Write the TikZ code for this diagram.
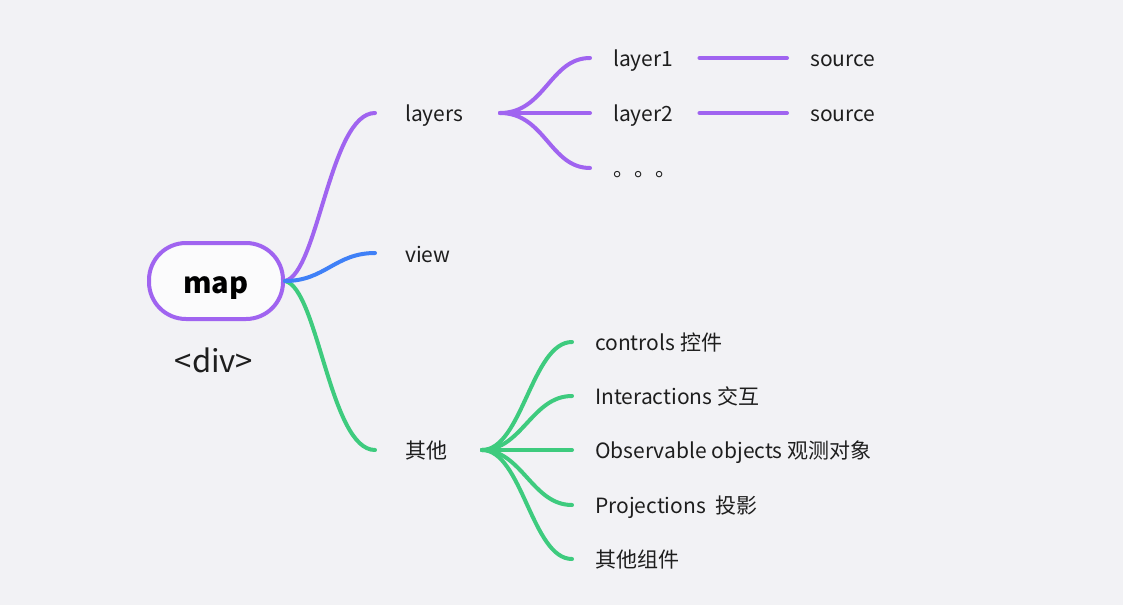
\documentclass[tikz,border=0pt]{standalone}
\usepackage{fontspec}
\setmainfont{Noto Sans CJK SC}
\definecolor{bg}{HTML}{F2F2F5}
\definecolor{cpurple}{HTML}{A064F0}
\definecolor{cblue}{HTML}{3F80F7}
\definecolor{cgreen}{HTML}{3ECB7E}
\definecolor{ctext}{HTML}{1E1E1E}
\begin{document}
\begin{tikzpicture}[x=1pt,y=-1pt,
  lbl/.style={anchor=west,inner sep=0pt,text=ctext,font=\fontsize{21}{25}\selectfont,text height=19pt,text depth=3pt},
  conn/.style={line width=4pt,line cap=round},
  rootbox/.style={draw=cpurple,line width=4pt,fill=white!70!bg,rounded corners=37pt,minimum width=134pt,minimum height=76pt,inner sep=0pt,font=\fontsize{29}{33}\selectfont\bfseries,text=black,text height=26pt,text depth=2pt}
]
\fill[bg] (0,0) rectangle (1123,605);
\useasboundingbox (0,0) rectangle (1123,605);

% root
\node[rootbox] (map) at (216,281) {map};
\node[inner sep=0pt,font=\fontsize{31}{35}\selectfont,text=ctext] (div) at (214,360) {<div>};

% first level labels
\node[lbl] (layers) at (405,113) {layers};
\node[lbl] (view) at (405,254) {view};
\node[lbl] (other) at (405,450) {其他};

% endpoints of root connectors
\coordinate (layersIn) at (375,113);
\coordinate (viewIn) at (375,253);
\coordinate (otherIn) at (375,450);

\draw[conn,cpurple] (map.east) .. controls (318,274) and (330,113) .. (layersIn);
\draw[conn,cgreen] (map.east) .. controls (318,288) and (330,450) .. (otherIn);
\draw[conn,cblue] (map.east) .. controls (325,281) and (335,253) .. (viewIn);

% layers branch
\coordinate (lfan) at (500,113);
\node[lbl] (l1) at (613,58) {layer1};
\node[lbl] (l2) at (613,113) {layer2};
\node[lbl] (dots) at (613,168) {。。。};
\node[lbl] (s1) at (810,58) {source};
\node[lbl] (s2) at (810,113) {source};
\coordinate (l1in) at (590,58);
\coordinate (l2in) at (590,113);
\coordinate (l3in) at (590,168);
\draw[conn,cpurple] (lfan) .. controls (545,113) and (550,58) .. (l1in);
\draw[conn,cpurple] (lfan) -- (l2in);
\draw[conn,cpurple] (lfan) .. controls (545,113) and (550,168) .. (l3in);
\draw[conn,cpurple] ([xshift=26pt]l1.east) -- ([xshift=-23pt]s1.west);
\draw[conn,cpurple] ([xshift=26pt]l2.east) -- ([xshift=-23pt]s2.west);

% other branch
\coordinate (ofan) at (482,450);
\node[lbl] (g1) at (595,342) {controls 控件};
\node[lbl] (g2) at (595,396) {Interactions 交互};
\node[lbl] (g3) at (595,450) {Observable objects 观测对象};
\node[lbl] (g4) at (595,505) {Projections~~投影};
\node[lbl] (g5) at (595,559) {其他组件};
\foreach \i/\y in {1/342,2/396,3/450,4/505,5/559}{
  \coordinate (g\i in) at (572,\y);
  \draw[conn,cgreen] (ofan) .. controls (522,450) and (532,\y) .. (g\i in);
}
\end{tikzpicture}
\end{document}
